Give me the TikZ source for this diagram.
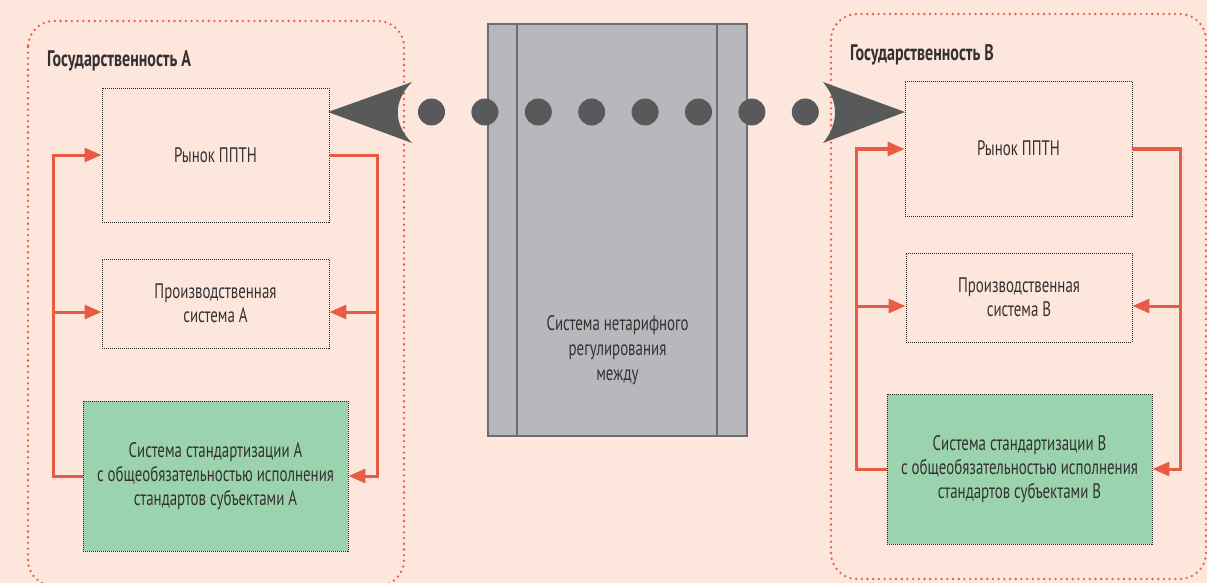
\documentclass[tikz,border=0pt]{standalone}
\usepackage{fontspec}
\setmainfont[FakeStretch=0.71]{PT Sans}
\usetikzlibrary{arrows.meta,calc}

\definecolor{bgpeach}{HTML}{FDE7DD}
\definecolor{linered}{HTML}{EA5B45}
\definecolor{panelgray}{HTML}{B7B8BB}
\definecolor{paneledge}{HTML}{6D6E71}
\definecolor{darkgray}{HTML}{58595B}
\definecolor{stdgreen}{HTML}{9BD3AE}
\definecolor{inktext}{HTML}{353132}

\tikzset{
  state/.style={draw=linered, line width=2.6pt, line cap=round,
    dash pattern=on 0pt off 5.7pt, rounded corners=26pt},
  unit/.style={draw=black!85, line width=0.9pt, dash pattern=on 1pt off 1pt,
    inner sep=0pt, align=center, text=inktext,
    font=\fontsize{21}{24}\selectfont},
  stdunit/.style={unit, fill=stdgreen},
  caption/.style={anchor=west, inner sep=0pt, text=inktext,
    font=\bfseries\fontsize{22.5}{25}\selectfont},
  loop/.style={draw=linered, line width=3pt},
  loopend/.style={loop, -{Triangle[length=17pt,width=14pt]}},
  bigdot/.style={fill=darkgray, draw=none},
}

\begin{document}
\begin{tikzpicture}[x=1pt,y=-1pt]
  % canvas
  \fill[bgpeach] (0,0) rectangle (1207,583);
  \useasboundingbox (0,0) rectangle (1207,583);

  % two statehood frames
  \draw[state] (28,21) rectangle (404,586);
  \draw[state] (831,14) rectangle (1206,579);
  \node[caption] (tA) at (47,61) {Государственность А};
  \node[caption] (tB) at (850,55) {Государственность В};

  % central regulation panel
  \draw[draw=paneledge, fill=panelgray, line width=2pt] (488,24) rectangle (747,436);
  \draw[paneledge, line width=2pt] (517,24) -- (517,436);
  \draw[paneledge, line width=2pt] (717,24) -- (717,436);
  \node[align=center, text=inktext, font=\fontsize{21}{25}\selectfont] (reg)
    at (617.5,350) {Система нетарифного\\регулирования\\между};

  % left statehood
  \node[unit, minimum width=227pt, minimum height=134pt] (rA) at (215.5,155) {Рынок ППТН};
  \node[unit, minimum width=227pt, minimum height=89pt] (pA) at (215.5,303.5)
    {Производственная\\система А};
  \node[stdunit, minimum width=265pt, minimum height=150pt] (sA) at (215.5,476)
    {Система стандартизации А\\с общеобязательностью исполнения\\стандартов субъектами А};

  % right statehood
  \node[unit, minimum width=227pt, minimum height=135pt] (rB) at (1018.5,148.5) {Рынок ППТН};
  \node[unit, minimum width=226pt, minimum height=89pt] (pB) at (1019,297.5)
    {Производственная\\система В};
  \node[stdunit, minimum width=265pt, minimum height=150pt] (sB) at (1019.5,469)
    {Система стандартизации В\\с общеобязательностью исполнения\\стандартов субъектами В};

  % feedback loops, side A
  \coordinate (lAtop) at (53,155);
  \coordinate (lAmid) at (53,312);
  \coordinate (rAbot) at (377,476);
  \coordinate (rAmid) at (377,312);
  \draw[loopend] (sA.west) -| (lAtop) -- (rA.west);
  \draw[loopend] (lAmid) -- (lAmid -| pA.west);
  \draw[loopend] (rA.east) -| (rAbot) -- (sA.east);
  \draw[loopend] (rAmid) -- (rAmid -| pA.east);

  % feedback loops, side B
  \coordinate (lBtop) at (856,149);
  \coordinate (lBmid) at (856,306);
  \coordinate (rBbot) at (1180,469);
  \coordinate (rBmid) at (1180,306);
  \draw[loopend] (sB.west) -| (lBtop) -- (rB.west |- lBtop);
  \draw[loopend] (lBmid) -- (lBmid -| pB.west);
  \draw[loopend] (rB.east |- lBtop) -| (rBbot) -- (sB.east);
  \draw[loopend] (rBmid) -- (rBmid -| pB.east);

  % dotted link between the two markets
  \foreach \i in {0,...,7}{
    \fill[bigdot] ({431.5+53.4*\i},112) circle (13.5pt);
  }
  \fill[darkgray] (328,112) -- (412,82)
    .. controls (393,101) and (393,124) .. (412,143) -- cycle;
  \fill[darkgray] (905,112) -- (823,82)
    .. controls (839,101) and (839,124) .. (823,143) -- cycle;
\end{tikzpicture}
\end{document}
